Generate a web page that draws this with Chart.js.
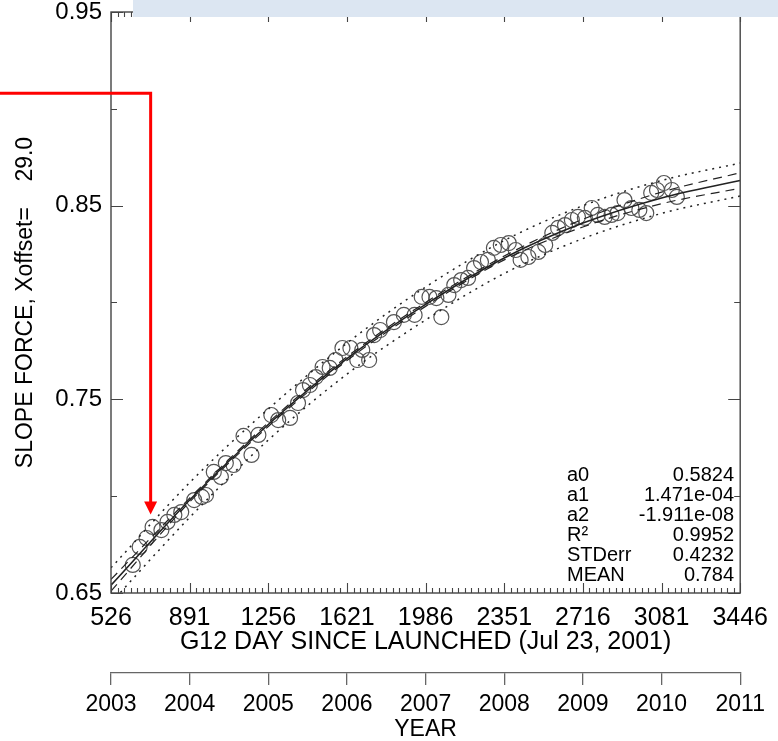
<!DOCTYPE html>
<html>
<head>
<meta charset="utf-8">
<title>G12 slope force</title>
<script src="https://cdn.jsdelivr.net/npm/chart.js@4.4.1/dist/chart.umd.min.js"></script>
<style>
  html, body { margin: 0; padding: 0; background: #fff; }
  #wrap { width: 778px; height: 741px; }
</style>
</head>
<body>
<div id="wrap"><canvas id="slopeChart" width="778" height="741"></canvas></div>
<script>
// Observed slope force (circles)
const obsDays = [627, 659, 691, 719, 760, 788, 820, 852, 912, 948, 967, 1003, 1036, 1059, 1095,
    1141, 1178, 1210, 1270, 1302, 1357, 1394, 1417, 1449, 1476, 1508, 1541, 1568, 1600, 1637,
    1669, 1692, 1724, 1747, 1775, 1839, 1885, 1935, 1968, 2004, 2036, 2059, 2092, 2119, 2151,
    2183, 2211, 2243, 2275, 2303, 2335, 2372, 2404, 2427, 2463, 2509, 2541, 2574, 2601, 2633,
    2665, 2693, 2725, 2757, 2785, 2817, 2849, 2877, 2909, 2941, 2978, 3010, 3033, 3060, 3092,
    3129, 3152];
const obsSlope = [0.6645, 0.6738, 0.6784, 0.6841, 0.6825, 0.6867, 0.6903, 0.6918, 0.6980, 0.6996,
    0.7006, 0.7125, 0.7099, 0.7171, 0.7161, 0.7311, 0.7213, 0.7316, 0.7419, 0.7393, 0.7404,
    0.7481, 0.7548, 0.7574, 0.7615, 0.7667, 0.7662, 0.7703, 0.7765, 0.7765, 0.7703, 0.7755,
    0.7703, 0.7832, 0.7858, 0.7899, 0.7936, 0.7936, 0.8029, 0.8029, 0.8023, 0.7925, 0.8039,
    0.8090, 0.8116, 0.8127, 0.8178, 0.8209, 0.8220, 0.8282, 0.8297, 0.8307, 0.8271, 0.8220,
    0.8235, 0.8261, 0.8297, 0.8359, 0.8385, 0.8400, 0.8426, 0.8442, 0.8437, 0.8488, 0.8452,
    0.8442, 0.8452, 0.8462, 0.8529, 0.8488, 0.8478, 0.8462, 0.8566, 0.8581, 0.8617, 0.8581,
    0.8545];

// Fit curve and bands, read at each day tick
const dayTicks = [526, 891, 1256, 1621, 1986, 2351, 2716, 3081, 3446];
const fitLine = [0.654, 0.698, 0.737, 0.771, 0.799, 0.823, 0.841, 0.854, 0.863];
const confHigh = [0.657, 0.699, 0.738, 0.772, 0.800, 0.824, 0.843, 0.857, 0.867];
const confLow = [0.651, 0.697, 0.736, 0.770, 0.798, 0.822, 0.839, 0.851, 0.859];
const predHigh = [0.663, 0.707, 0.745, 0.779, 0.808, 0.832, 0.850, 0.863, 0.872];
const predLow = [0.645, 0.689, 0.729, 0.763, 0.791, 0.815, 0.833, 0.846, 0.855];

const slopeTicks = [0.65, 0.75, 0.85, 0.95];
const yearTicks = [2003, 2004, 2005, 2006, 2007, 2008, 2009, 2010, 2011];

const fitLabels = ['a0', 'a1', 'a2', 'R\u00B2', 'STDerr', 'MEAN'];
const fitValues = ['0.5824', '1.471e-04', '-1.911e-08', '0.9952', '0.4232', '0.784'];

// Red arrow annotation, in data units
const arrowDay = 710;
const arrowTop = 0.908;
const arrowTip = 0.6905;

const FONT = "'Liberation Sans', Arial, Helvetica, sans-serif";

function pairs(xs, ys) {
    return xs.map((x, i) => ({ x: x, y: ys[i] }));
}

function bandLine(values, dash, width) {
    return {
        data: pairs(dayTicks, values),
        borderColor: '#222',
        borderWidth: width,
        borderDash: dash,
        pointRadius: 0,
        fill: false,
        cubicInterpolationMode: 'monotone'
    };
}

// Frame, inward ticks, header strip, arrow and fit summary
const decorations = {
    id: 'decorations',
    afterDraw(chart) {
        const { ctx, chartArea: a, scales } = chart;
        const x = scales.x, y = scales.y;
        ctx.save();

        ctx.strokeStyle = '#444';
        ctx.lineWidth = 1.4;
        ctx.strokeRect(a.left, a.top, a.right - a.left, a.bottom - a.top);

        ctx.lineWidth = 1.1;
        ctx.beginPath();
        const span = dayTicks[dayTicks.length - 1] - dayTicks[0];
        const minorCount = (dayTicks.length - 1) * 12;
        for (let i = 0; i <= minorCount; i++) {
            const px = Math.round(x.getPixelForValue(dayTicks[0] + span * i / minorCount)) + 0.5;
            const len = i % 12 === 0 ? 10 : 5;
            ctx.moveTo(px, a.bottom); ctx.lineTo(px, a.bottom - len);
            ctx.moveTo(px, a.top); ctx.lineTo(px, a.top + len);
        }
        for (let v = slopeTicks[0]; v <= slopeTicks[slopeTicks.length - 1] + 1e-9; v += 0.05) {
            const py = Math.round(y.getPixelForValue(v)) + 0.5;
            const major = slopeTicks.some(t => Math.abs(t - v) < 1e-6);
            const len = major ? 12 : 6;
            ctx.moveTo(a.left, py); ctx.lineTo(a.left + len, py);
            ctx.moveTo(a.right, py); ctx.lineTo(a.right - len, py);
        }
        ctx.stroke();

        // light header strip over the top axis
        ctx.fillStyle = '#dce6f2';
        ctx.fillRect(133, 0, chart.width - 133, 17);

        // red arrow
        const ax = x.getPixelForValue(arrowDay);
        const ay = y.getPixelForValue(arrowTop);
        const tip = y.getPixelForValue(arrowTip);
        ctx.strokeStyle = '#ff0000';
        ctx.fillStyle = '#ff0000';
        ctx.lineWidth = 3;
        ctx.beginPath();
        ctx.moveTo(0, ay);
        ctx.lineTo(ax, ay);
        ctx.lineTo(ax, tip - 12);
        ctx.stroke();
        ctx.beginPath();
        ctx.moveTo(ax - 6.5, tip - 13);
        ctx.lineTo(ax + 6.5, tip - 13);
        ctx.lineTo(ax, tip);
        ctx.closePath();
        ctx.fill();

        // fit summary
        ctx.fillStyle = '#000';
        ctx.font = '20px ' + FONT;
        ctx.textBaseline = 'middle';
        fitLabels.forEach((lab, i) => {
            const ty = 475 + i * 20;
            ctx.textAlign = 'left';
            ctx.fillText(lab, 567, ty);
            ctx.textAlign = 'right';
            ctx.fillText(fitValues[i], 734, ty);
        });
        ctx.restore();
    }
};

const ctx = document.getElementById('slopeChart');

new Chart(ctx, {
    type: 'line',
    data: {
        datasets: [
            bandLine(predHigh, [2, 5], 1.5),
            bandLine(predLow, [2, 5], 1.5),
            bandLine(confHigh, [9, 6], 1.2),
            bandLine(confLow, [9, 6], 1.2),
            bandLine(fitLine, [], 1.6),
            {
                data: pairs(obsDays, obsSlope),
                showLine: false,
                pointStyle: 'circle',
                pointRadius: 7.5,
                pointBackgroundColor: 'rgba(0,0,0,0)',
                pointBorderColor: '#555',
                pointBorderWidth: 1.2
            }
        ]
    },
    options: {
        responsive: false,
        animation: false,
        layout: { padding: { top: 12, right: 31, left: 0, bottom: 0 } },
        plugins: {
            legend: { display: false },
            tooltip: { enabled: false }
        },
        scales: {
            x: {
                type: 'linear',
                position: 'bottom',
                weight: 0,
                min: dayTicks[0],
                max: dayTicks[dayTicks.length - 1],
                afterFit: s => { s.height = 80; },
                grid: { display: false, drawTicks: false },
                border: { display: false },
                ticks: {
                    stepSize: 365,
                    autoSkip: false,
                    maxRotation: 0,
                    padding: 10,
                    color: '#000',
                    font: { family: FONT, size: 25 },
                    callback: v => String(Math.round(v))
                },
                title: {
                    display: true,
                    text: 'G12 DAY SINCE LAUNCHED (Jul 23, 2001)',
                    color: '#000',
                    font: { family: FONT, size: 25 },
                    padding: { top: 0, bottom: 16 }
                }
            },
            year: {
                type: 'linear',
                position: 'bottom',
                weight: 1,
                min: yearTicks[0],
                max: yearTicks[yearTicks.length - 1],
                afterFit: s => { s.height = 68; },
                grid: { drawOnChartArea: false, tickLength: 12, color: '#666', lineWidth: 1.3 },
                border: { display: true, color: '#666', width: 1.3 },
                ticks: {
                    stepSize: 1,
                    autoSkip: false,
                    maxRotation: 0,
                    padding: 6,
                    color: '#000',
                    font: { family: FONT, size: 23 },
                    callback: v => String(v)
                },
                title: {
                    display: true,
                    text: 'YEAR',
                    color: '#000',
                    font: { family: FONT, size: 23, lineHeight: 1 },
                    padding: { top: 0, bottom: 0 }
                }
            },
            y: {
                type: 'linear',
                position: 'left',
                min: slopeTicks[0],
                max: slopeTicks[slopeTicks.length - 1],
                afterFit: s => { s.width = 111; s.paddingTop = 0; s.paddingBottom = 0; },
                grid: { display: false, drawTicks: false },
                border: { display: false },
                ticks: {
                    stepSize: 0.1,
                    padding: 9,
                    color: '#000',
                    font: { family: FONT, size: 24 },
                    callback: v => v.toFixed(2)
                },
                title: {
                    display: true,
                    text: 'SLOPE FORCE, Xoffset=    29.0',
                    color: '#000',
                    font: { family: FONT, size: 23 },
                    padding: { top: 12, bottom: 0 }
                }
            }
        }
    },
    plugins: [decorations]
});
</script>
</body>
</html>
